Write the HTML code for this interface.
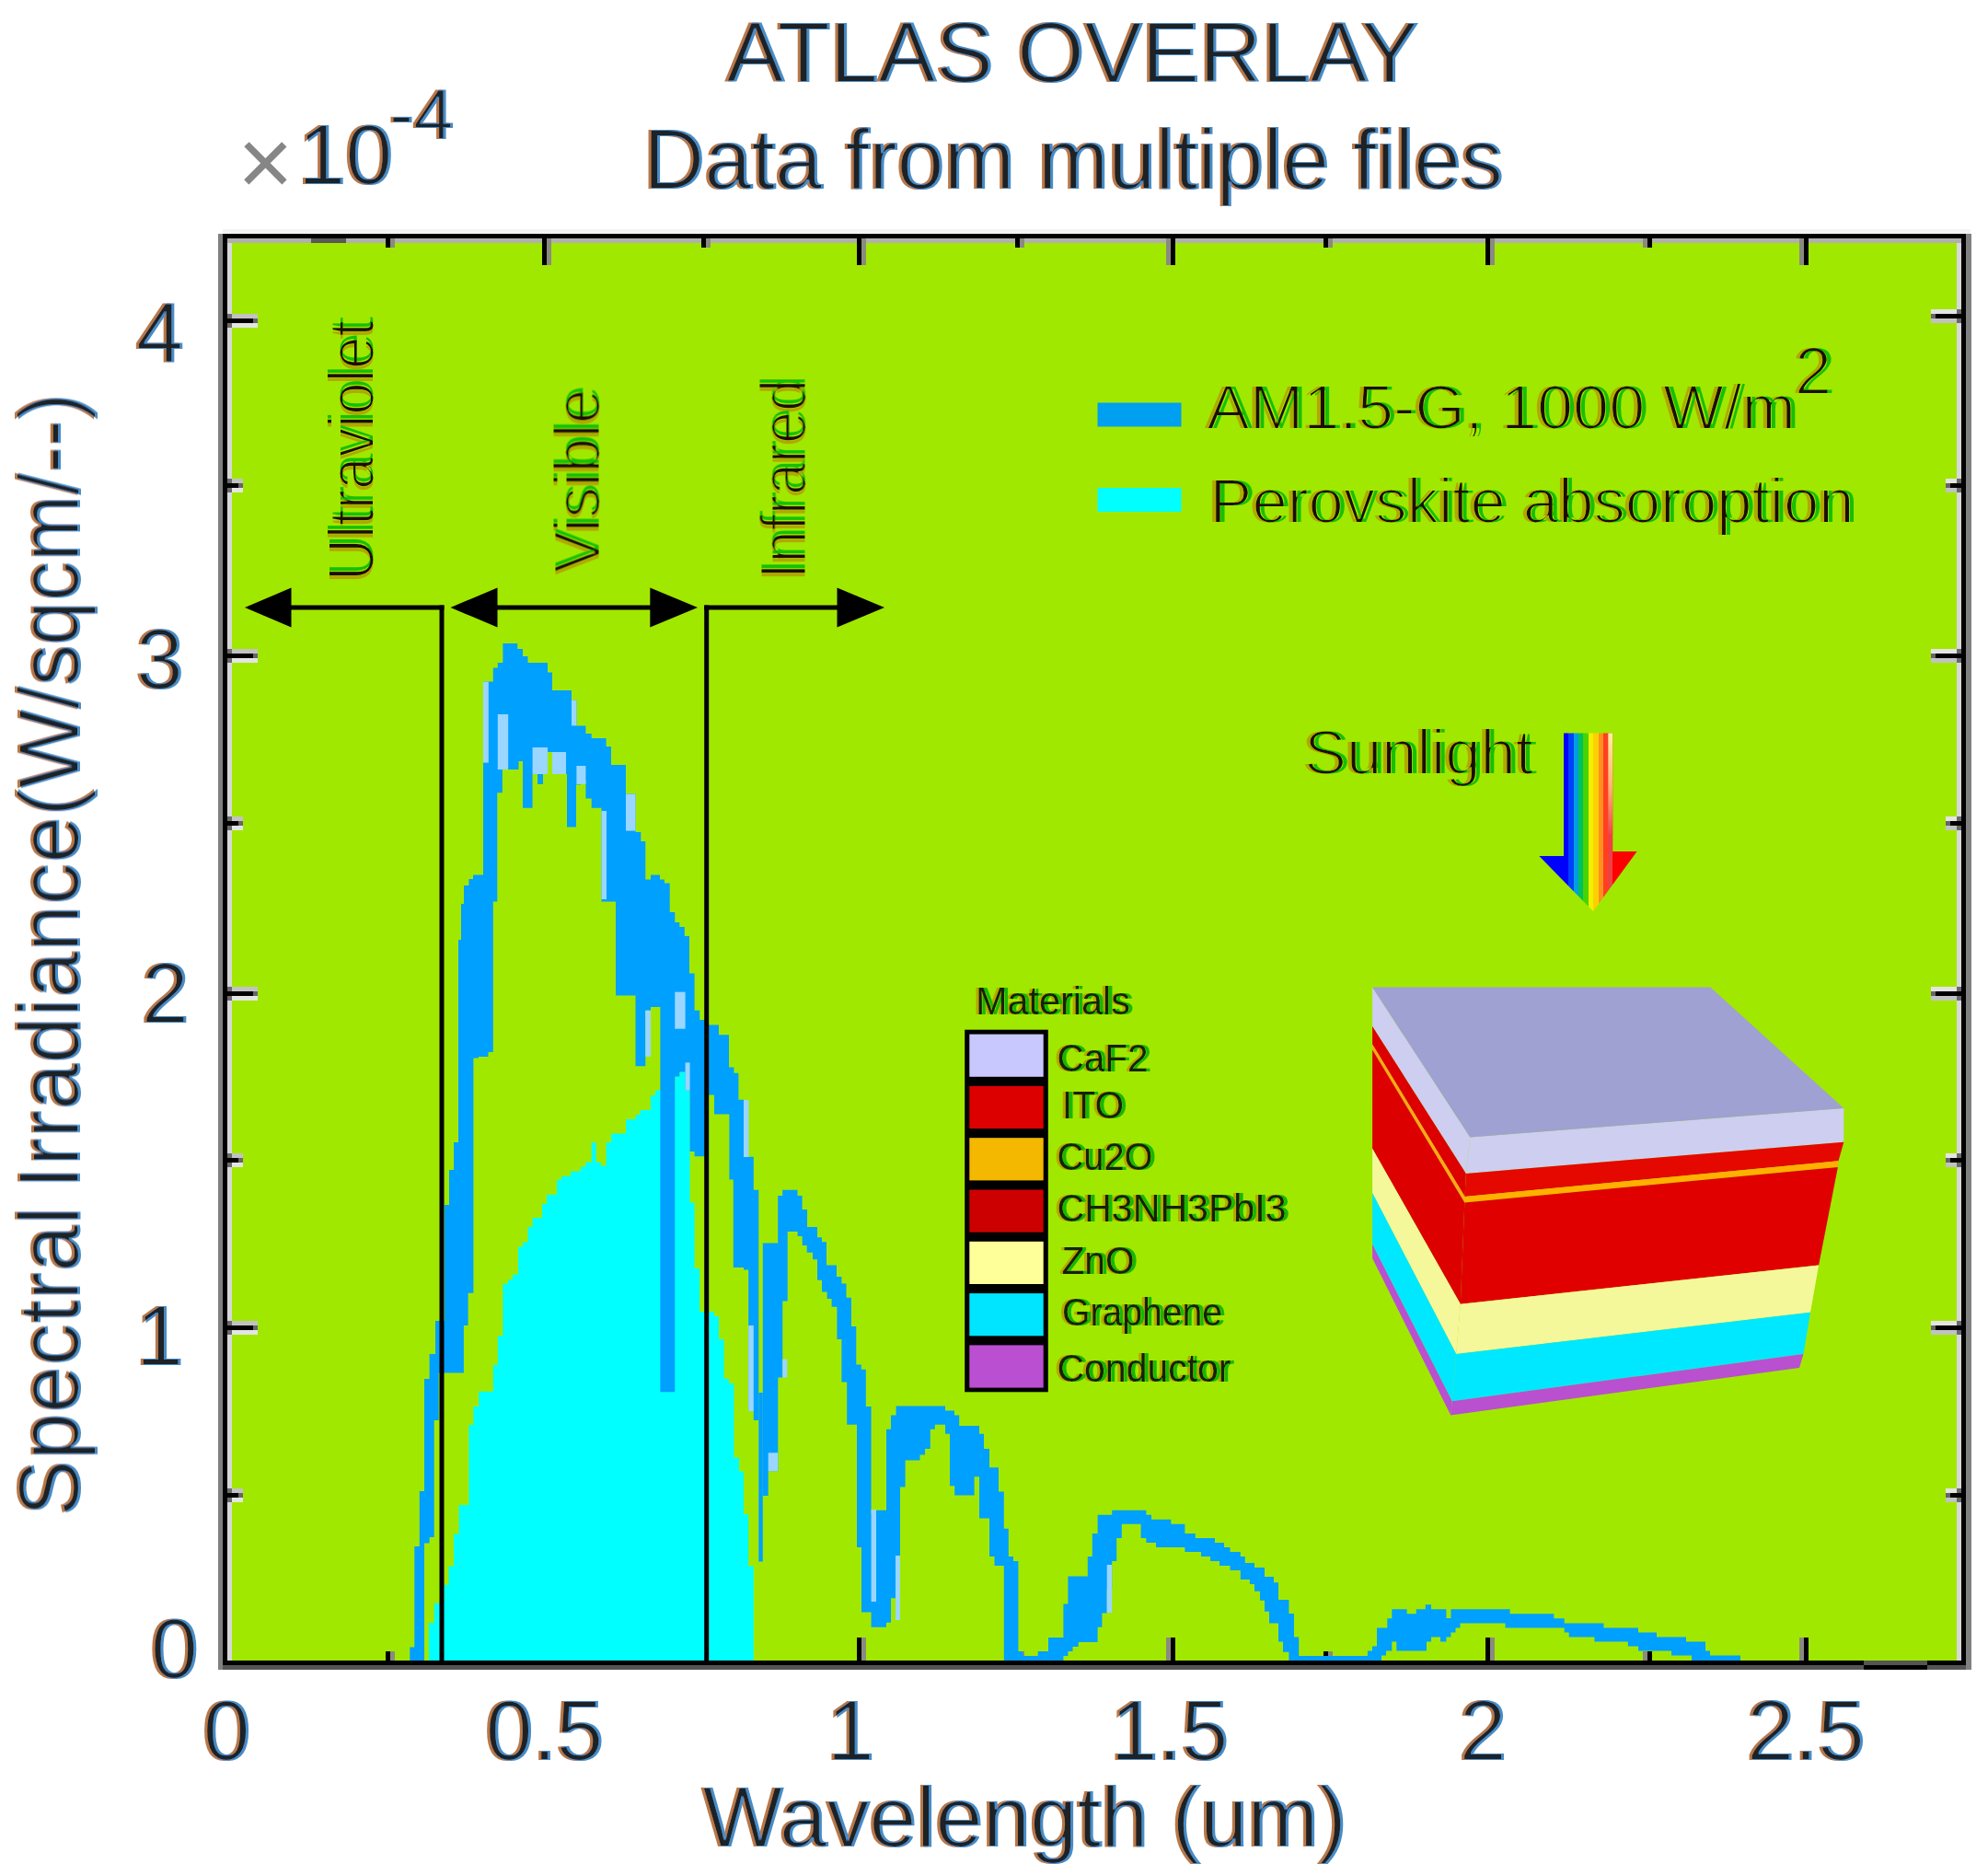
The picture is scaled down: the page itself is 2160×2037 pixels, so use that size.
<!DOCTYPE html>
<html lang="en"><head><meta charset="utf-8"><title>ATLAS OVERLAY</title>
<style>html,body{margin:0;padding:0;background:#fff}svg{display:block}text{font-family:"Liberation Sans",sans-serif}</style></head><body>
<svg width="2160" height="2037" viewBox="0 0 2160 2037">
<rect width="2160" height="2037" fill="#fff"/>
<defs><filter id="fg" x="-5%" y="-20%" width="110%" height="140%" primitiveUnits="userSpaceOnUse"><feMorphology in="SourceAlpha" operator="erode" radius="0.7" result="e"/><feOffset in="e" dx="4.5" dy="0" result="r"/><feFlood flood-color="#18c000"/><feComposite in2="r" operator="in" result="rc"/><feOffset in="e" dx="-4.5" dy="0" result="l"/><feFlood flood-color="#b0a800"/><feComposite in2="l" operator="in" result="lc"/><feFlood flood-color="#1c0c00"/><feComposite in2="e" operator="in" result="cc"/><feMerge><feMergeNode in="lc"/><feMergeNode in="rc"/><feMergeNode in="cc"/></feMerge></filter><filter id="fs" x="-5%" y="-20%" width="110%" height="140%" primitiveUnits="userSpaceOnUse"><feOffset in="SourceAlpha" dx="3.5" dy="0" result="r"/><feFlood flood-color="#18b800"/><feComposite in2="r" operator="in" result="rc"/><feOffset in="SourceAlpha" dx="-3.5" dy="0" result="l"/><feFlood flood-color="#b4a800"/><feComposite in2="l" operator="in" result="lc"/><feMerge><feMergeNode in="lc"/><feMergeNode in="rc"/><feMergeNode in="SourceGraphic"/></feMerge></filter><filter id="fw" x="-5%" y="-20%" width="110%" height="140%" primitiveUnits="userSpaceOnUse"><feMorphology in="SourceAlpha" operator="erode" radius="1" result="e"/><feOffset in="SourceAlpha" dx="-2" dy="0" result="l"/><feFlood flood-color="#b87848"/><feComposite in2="l" operator="in" result="lc"/><feOffset in="SourceAlpha" dx="2" dy="0" result="r"/><feFlood flood-color="#4a8cc6"/><feComposite in2="r" operator="in" result="rc"/><feFlood flood-color="#1e2028"/><feComposite in2="e" operator="in" result="cc"/><feMerge><feMergeNode in="lc"/><feMergeNode in="rc"/><feMergeNode in="cc"/></feMerge></filter><filter id="fwr" x="-5%" y="-30%" width="110%" height="160%" primitiveUnits="userSpaceOnUse"><feMorphology in="SourceAlpha" operator="erode" radius="1" result="e"/><feOffset in="SourceAlpha" dx="0" dy="-2" result="l"/><feFlood flood-color="#b87848"/><feComposite in2="l" operator="in" result="lc"/><feOffset in="SourceAlpha" dx="0" dy="2" result="r"/><feFlood flood-color="#4a8cc6"/><feComposite in2="r" operator="in" result="rc"/><feFlood flood-color="#1e2028"/><feComposite in2="e" operator="in" result="cc"/><feMerge><feMergeNode in="lc"/><feMergeNode in="rc"/><feMergeNode in="cc"/></feMerge></filter></defs>
<rect x="247" y="259" width="1884" height="1550" fill="#a1e800"/>
<g shape-rendering="crispEdges">
<rect x="424" y="1794" width="5" height="10" fill="#8a8a80"/>
<rect x="419" y="1794" width="5" height="10" fill="#000"/>
<rect x="594" y="1778.5" width="5" height="25.5" fill="#8a8a80"/>
<rect x="589" y="1778.5" width="5" height="25.5" fill="#000"/>
<rect x="767" y="1794" width="5" height="10" fill="#8a8a80"/>
<rect x="762" y="1794" width="5" height="10" fill="#000"/>
<rect x="936" y="1778.5" width="5" height="25.5" fill="#8a8a80"/>
<rect x="931" y="1778.5" width="5" height="25.5" fill="#000"/>
<rect x="1108" y="1794" width="5" height="10" fill="#8a8a80"/>
<rect x="1103" y="1794" width="5" height="10" fill="#000"/>
<rect x="1267.3" y="1778.5" width="5" height="25.5" fill="#8a8a80"/>
<rect x="1272.3" y="1778.5" width="5" height="25.5" fill="#000"/>
<rect x="1443" y="1794" width="5" height="10" fill="#8a8a80"/>
<rect x="1438" y="1794" width="5" height="10" fill="#000"/>
<rect x="1619" y="1778.5" width="5" height="25.5" fill="#8a8a80"/>
<rect x="1614" y="1778.5" width="5" height="25.5" fill="#000"/>
<rect x="1785" y="1794" width="5" height="10" fill="#8a8a80"/>
<rect x="1790" y="1794" width="5" height="10" fill="#000"/>
<rect x="1955.3" y="1778.5" width="5" height="25.5" fill="#8a8a80"/>
<rect x="1960.3" y="1778.5" width="5" height="25.5" fill="#000"/>
</g>
<polygon points="465.9,1804.0 465.9,1763.0 471.7,1763.0 471.7,1741.8 482.5,1741.8 482.5,1721.7 487.5,1721.7 487.5,1701.6 493.0,1701.6 493.0,1666.4 498.6,1666.4 498.6,1635.0 509.4,1635.0 509.4,1548.0 514.4,1548.0 514.4,1528.0 520.2,1528.0 520.2,1511.7 535.8,1511.7 535.8,1482.8 540.8,1482.8 540.8,1451.3 546.4,1451.3 546.4,1394.6 552.0,1394.6 552.0,1390.0 557.0,1390.0 557.0,1384.6 563.0,1384.6 563.0,1354.4 568.0,1354.4 568.0,1349.4 573.5,1349.4 573.5,1333.0 578.6,1333.0 578.6,1323.0 583.6,1323.0 589.0,1323.0 589.0,1307.9 594.0,1307.9 594.0,1297.8 599.3,1297.8 605.0,1297.8 605.0,1281.4 610.0,1281.4 610.0,1277.7 620.0,1277.7 620.0,1272.6 630.8,1272.6 630.8,1267.6 636.4,1267.6 636.4,1262.6 642.7,1262.6 642.7,1241.2 647.7,1241.2 647.7,1262.6 652.8,1262.6 652.8,1266.4 658.6,1266.4 658.6,1241.2 664.0,1241.2 664.0,1231.6 680.0,1231.6 680.0,1216.0 690.5,1216.0 690.5,1211.0 695.5,1211.0 695.5,1206.0 706.8,1206.0 706.8,1190.0 712.0,1190.0 712.0,1184.6 717.4,1184.6 733.3,1184.6 733.3,1169.5 738.3,1169.5 738.3,1164.5 749.6,1164.5 749.6,1306.6 754.6,1306.6 754.6,1378.0 760.2,1378.0 760.2,1425.0 776.0,1425.0 776.0,1430.0 781.0,1430.0 781.0,1455.0 786.6,1455.0 786.6,1497.8 792.0,1497.8 792.0,1503.0 797.4,1503.0 797.4,1583.4 803.0,1583.4 803.0,1598.5 808.0,1598.5 808.0,1645.0 813.2,1645.0 813.2,1701.6 818.8,1701.6 818.8,1804.0" fill="#00ffff"/>
<polygon points="445.3,1804.0 445.3,1789.6 450.3,1789.6 450.3,1680.0 455.8,1680.0 455.8,1620.0 461.0,1620.0 461.0,1498.0 466.6,1498.0 466.6,1471.0 473.0,1471.0 473.0,1435.0 483.0,1435.0 483.0,1309.0 488.0,1309.0 488.0,1271.0 493.0,1271.0 493.0,1241.0 498.0,1241.0 498.0,1021.0 501.0,1021.0 501.0,982.0 504.0,982.0 504.0,962.0 509.4,962.0 509.4,955.0 514.0,955.0 514.0,950.6 525.0,950.6 525.0,740.6 535.8,740.6 535.8,725.5 540.8,725.5 540.8,720.0 546.4,720.0 546.4,699.0 562.2,699.0 562.2,705.0 568.0,705.0 568.0,713.0 573.5,713.0 573.5,720.0 595.0,720.0 595.0,730.5 600.0,730.5 600.0,750.0 621.0,750.0 621.0,760.7 626.4,760.7 626.4,788.4 636.4,788.4 636.4,797.0 642.7,797.0 642.7,802.0 658.6,802.0 658.6,811.0 664.0,811.0 664.0,831.0 680.0,831.0 680.0,862.6 690.5,862.6 690.5,904.0 696.3,904.0 696.3,914.0 701.3,914.0 701.3,955.6 707.0,955.6 707.0,950.6 717.0,950.6 717.0,955.6 722.0,955.6 722.0,959.4 727.7,959.4 727.7,991.0 733.3,991.0 733.3,1002.0 738.3,1002.0 738.3,1007.0 743.8,1007.0 743.8,1017.0 749.0,1017.0 749.0,1057.6 754.6,1057.6 754.6,1097.8 760.2,1097.8 760.2,1108.0 770.0,1108.0 770.0,1113.4 781.0,1113.4 781.0,1124.3 792.0,1124.3 792.0,1159.5 797.4,1159.5 797.4,1165.8 802.4,1165.8 802.4,1194.7 808.0,1194.7 808.0,1256.8 818.8,1256.8 818.8,1292.8 824.3,1292.8 824.3,1543.0 818.8,1543.0 818.8,1533.0 813.2,1533.0 813.2,1379.5 808.0,1379.5 808.0,1377.0 796.8,1377.0 796.8,1281.4 792.4,1281.4 792.4,1210.5 776.0,1210.5 776.0,1189.6 767.7,1189.6 767.7,1256.3 754.6,1256.3 754.6,1251.0 749.6,1251.0 749.6,1184.6 744.6,1184.6 744.6,1164.5 738.3,1164.5 738.3,1169.5 733.3,1169.5 733.3,1512.2 717.4,1512.2 717.4,1094.0 707.0,1094.0 707.0,1097.8 701.3,1097.8 701.3,1158.2 690.5,1158.2 690.5,1081.5 669.0,1081.5 669.0,979.5 653.5,979.5 653.5,877.7 642.7,877.7 642.7,867.6 636.4,867.6 636.4,847.0 631.0,847.0 631.0,852.5 626.0,852.5 626.0,898.5 616.0,898.5 616.0,841.0 615.0,841.0 615.0,821.0 600.0,821.0 600.0,817.0 595.0,817.0 595.0,836.0 590.0,836.0 590.0,852.0 584.0,852.0 584.0,841.0 578.6,841.0 578.6,877.7 568.0,877.7 568.0,827.0 563.5,827.0 563.5,836.0 545.9,836.0 545.9,861.3 540.3,861.3 540.3,979.5 535.8,979.5 535.8,1143.0 530.5,1143.0 530.5,1148.0 520.0,1148.0 520.0,1149.4 514.4,1149.4 514.4,1404.7 508.6,1404.7 508.6,1440.0 503.9,1440.0 503.9,1491.6 476.7,1491.6 476.7,1543.0 471.7,1543.0 471.7,1670.0 466.6,1670.0 466.6,1676.4 461.0,1676.4 461.0,1804.0" fill="#00a0ff"/>
<rect x="824.3" y="1513" width="4.5" height="183.5" fill="#00a0ff"/>
<polygon points="828.8,1624.9 828.8,1350.6 845.2,1350.6 845.2,1299.0 850.2,1299.0 850.2,1292.8 866.5,1292.8 866.5,1299.0 871.6,1299.0 871.6,1314.0 877.0,1314.0 877.0,1333.0 888.0,1333.0 888.0,1344.3 893.0,1344.3 893.0,1349.3 898.0,1349.3 898.0,1374.5 909.0,1374.5 909.0,1387.0 914.4,1387.0 914.4,1394.6 919.5,1394.6 919.5,1409.7 925.0,1409.7 925.0,1441.0 930.3,1441.0 930.3,1482.6 935.8,1482.6 935.8,1487.7 940.8,1487.7 940.8,1528.0 946.6,1528.0 946.6,1644.5 952.0,1644.5 952.0,1640.7 963.0,1640.7 963.0,1552.7 968.0,1552.7 968.0,1537.6 973.6,1537.6 973.6,1527.5 1027.0,1527.5 1027.0,1532.6 1037.0,1532.6 1037.0,1537.6 1042.2,1537.6 1042.2,1549.0 1064.0,1549.0 1064.0,1557.7 1069.0,1557.7 1069.0,1574.0 1075.0,1574.0 1075.0,1594.2 1085.0,1594.2 1085.0,1620.6 1090.8,1620.6 1090.8,1660.8 1095.8,1660.8 1095.8,1691.0 1101.0,1691.0 1101.0,1696.0 1106.4,1696.0 1106.4,1794.0 1111.4,1794.0 1111.4,1799.0 1127.7,1799.0 1127.7,1794.0 1139.0,1794.0 1139.0,1779.0 1155.4,1779.0 1155.4,1742.6 1160.4,1742.6 1160.4,1712.4 1181.8,1712.4 1181.8,1691.0 1186.8,1691.0 1186.8,1665.9 1192.6,1665.9 1192.6,1645.8 1208.2,1645.8 1208.2,1640.7 1245.4,1640.7 1245.4,1645.8 1251.0,1645.8 1251.0,1650.8 1272.3,1650.8 1272.3,1655.8 1287.4,1655.8 1287.4,1665.9 1298.8,1665.9 1298.8,1671.0 1320.0,1671.0 1320.0,1676.0 1330.0,1676.0 1330.0,1681.0 1336.5,1681.0 1336.5,1686.0 1347.8,1686.0 1347.8,1691.0 1352.8,1691.0 1352.8,1698.0 1363.0,1698.0 1363.0,1703.0 1374.0,1703.0 1374.0,1713.0 1384.0,1713.0 1384.0,1719.3 1389.0,1719.3 1389.0,1738.0 1400.4,1738.0 1400.4,1753.0 1406.0,1753.0 1406.0,1778.5 1411.2,1778.5 1411.2,1799.0 1485.9,1799.0 1485.9,1793.5 1491.0,1793.5 1491.0,1788.5 1496.0,1788.5 1496.0,1768.4 1507.3,1768.4 1507.3,1758.3 1512.3,1758.3 1512.3,1748.3 1528.6,1748.3 1528.6,1753.3 1538.7,1753.3 1538.7,1748.3 1548.8,1748.3 1548.8,1743.2 1555.0,1743.2 1555.0,1748.3 1571.4,1748.3 1571.4,1758.0 1576.4,1758.0 1576.4,1748.3 1640.6,1748.3 1640.6,1753.3 1688.3,1753.3 1688.3,1758.3 1699.7,1758.3 1699.7,1763.4 1742.4,1763.4 1742.4,1768.4 1780.0,1768.4 1780.0,1773.4 1800.0,1773.4 1800.0,1778.5 1832.0,1778.5 1832.0,1783.5 1853.0,1783.5 1853.0,1793.6 1858.0,1793.6 1858.0,1798.6 1891.0,1798.6 1891.0,1804.0 1838.0,1804.0 1838.0,1798.6 1816.0,1798.6 1816.0,1793.6 1780.0,1793.6 1780.0,1788.5 1768.8,1788.5 1768.8,1783.5 1732.4,1783.5 1732.4,1778.5 1704.7,1778.5 1704.7,1773.4 1699.7,1773.4 1699.7,1768.4 1635.5,1768.4 1635.5,1763.4 1586.5,1763.4 1586.5,1768.4 1581.5,1768.4 1581.5,1773.4 1576.4,1773.4 1576.4,1778.5 1571.4,1778.5 1571.4,1783.5 1565.0,1783.5 1565.0,1778.5 1555.0,1778.5 1555.0,1783.5 1550.0,1783.5 1550.0,1793.5 1517.3,1793.5 1517.3,1783.5 1512.3,1783.5 1512.3,1793.5 1506.0,1793.5 1506.0,1798.6 1501.0,1798.6 1501.0,1804.0 1400.4,1804.0 1400.4,1794.8 1394.0,1794.8 1394.0,1783.5 1389.0,1783.5 1389.0,1763.4 1379.0,1763.4 1379.0,1750.8 1374.0,1750.8 1374.0,1738.8 1369.0,1738.8 1369.0,1728.7 1363.0,1728.7 1363.0,1721.0 1357.9,1721.0 1357.9,1716.0 1347.8,1716.0 1347.8,1706.0 1336.5,1706.0 1336.5,1701.0 1325.0,1701.0 1325.0,1696.0 1315.0,1696.0 1315.0,1691.0 1305.0,1691.0 1305.0,1686.0 1287.4,1686.0 1287.4,1681.0 1256.0,1681.0 1256.0,1676.0 1245.4,1676.0 1245.4,1671.0 1239.6,1671.0 1239.6,1655.8 1218.8,1655.8 1218.8,1671.0 1213.2,1671.0 1213.2,1696.0 1208.2,1696.0 1208.2,1726.2 1202.7,1726.2 1202.7,1752.6 1197.4,1752.6 1197.4,1767.7 1192.6,1767.7 1192.6,1784.0 1171.7,1784.0 1171.7,1789.0 1165.5,1789.0 1165.5,1794.0 1160.4,1794.0 1160.4,1799.0 1155.4,1799.0 1155.4,1804.0 1090.8,1804.0 1090.8,1701.0 1080.5,1701.0 1080.5,1691.0 1075.0,1691.0 1075.0,1649.5 1064.0,1649.5 1064.0,1604.3 1058.6,1604.3 1058.6,1624.4 1037.2,1624.4 1037.2,1614.3 1032.0,1614.3 1032.0,1557.7 1027.0,1557.7 1027.0,1547.7 1015.8,1547.7 1015.8,1552.7 1010.8,1552.7 1010.8,1574.0 1005.0,1574.0 1005.0,1580.4 999.5,1580.4 999.5,1586.6 983.6,1586.6 983.6,1615.6 978.0,1615.6 978.0,1736.3 968.0,1736.3 968.0,1762.7 963.0,1762.7 963.0,1767.7 946.6,1767.7 946.6,1751.4 936.0,1751.4 936.0,1681.0 931.0,1681.0 931.0,1547.7 920.2,1547.7 920.2,1501.5 914.4,1501.5 914.4,1455.0 909.4,1455.0 909.4,1419.8 903.6,1419.8 903.6,1411.0 898.6,1411.0 898.6,1403.4 893.0,1403.4 893.0,1390.8 888.0,1390.8 888.0,1368.2 883.0,1368.2 883.0,1360.7 876.7,1360.7 876.7,1353.0 871.7,1353.0 871.7,1343.0 866.6,1343.0 866.6,1338.0 855.7,1338.0 855.7,1413.5 850.3,1413.5 850.3,1496.5 845.3,1496.5 845.3,1598.3 834.7,1598.3 834.7,1624.9" fill="#00a0ff"/>
<rect x="525" y="740.6" width="5.8" height="88" fill="#9ad6ff"/>
<rect x="540.8" y="776" width="11.4" height="60" fill="#9ad6ff"/>
<rect x="578.6" y="812" width="16.4" height="29" fill="#9ad6ff"/>
<rect x="600" y="817" width="15" height="24" fill="#9ad6ff"/>
<rect x="626.4" y="832" width="10" height="20" fill="#9ad6ff"/>
<rect x="653.5" y="881" width="5.5" height="96" fill="#9ad6ff"/>
<rect x="680" y="862.6" width="10.5" height="40" fill="#9ad6ff"/>
<rect x="621" y="760.7" width="5.4" height="27.7" fill="#9ad6ff"/>
<rect x="733.3" y="1077.7" width="11.3" height="40" fill="#9ad6ff"/>
<rect x="744.6" y="1154.4" width="5" height="30.2" fill="#9ad6ff"/>
<rect x="813.2" y="1440" width="5.6" height="93" fill="#9ad6ff"/>
<rect x="701.3" y="1097.8" width="5.7" height="50" fill="#9ad6ff"/>
<rect x="808" y="1195" width="5.5" height="62" fill="#9ad6ff"/>
<rect x="850.3" y="1476.5" width="5" height="20" fill="#9ad6ff"/>
<rect x="834.7" y="1578.3" width="10.6" height="20" fill="#9ad6ff"/>
<rect x="946.6" y="1640" width="5.4" height="100" fill="#9ad6ff"/>
<rect x="973" y="1690" width="5" height="70" fill="#9ad6ff"/>
<rect x="1202.7" y="1700" width="5.5" height="52" fill="#9ad6ff"/>
<g fill="#000">
<rect x="477.5" y="657.5" width="5" height="1147"/>
<rect x="765.2" y="657.5" width="5" height="1147"/>
<rect x="316" y="657.5" width="166.5" height="5"/>
<rect x="540" y="657.5" width="167" height="5"/>
<rect x="765.2" y="657.5" width="145" height="5"/>
<polygon points="266,660 316.5,638.5 316.5,681.5"/>
<polygon points="489.5,660 540.5,638.5 540.5,681.5"/>
<polygon points="758,660 706.3,638.5 706.3,681.5"/>
<polygon points="961,660 909.5,638.5 909.5,681.5"/>
</g>
<text transform="translate(406,631) rotate(-90)" font-size="70" fill="#1c0c00" filter="url(#fg)" textLength="283" lengthAdjust="spacingAndGlyphs">Ultraviolet</text>
<text transform="translate(651.5,622.5) rotate(-90)" font-size="70" fill="#1c0c00" filter="url(#fg)" textLength="200" lengthAdjust="spacingAndGlyphs">Visible</text>
<text transform="translate(875.5,629) rotate(-90)" font-size="70" fill="#1c0c00" filter="url(#fg)" textLength="217" lengthAdjust="spacingAndGlyphs">Infrared</text>
<rect x="1192.5" y="437.5" width="91" height="26" fill="#00a0f0"/>
<rect x="1192.5" y="530" width="91" height="26" fill="#00ffff"/>
<text x="1311" y="466" font-size="69" fill="#1c0c00" filter="url(#fg)" textLength="640" lengthAdjust="spacingAndGlyphs">AM1.5-G, 1000 W/m</text>
<text x="1950" y="428" font-size="72" fill="#1c0c00" filter="url(#fg)">2</text>
<text x="1314.5" y="568" font-size="69" fill="#1c0c00" filter="url(#fg)" textLength="700" lengthAdjust="spacingAndGlyphs">Perovskite absoroption</text>
<text x="1417" y="840.5" font-size="69" fill="#1c0c00" filter="url(#fg)" textLength="249" lengthAdjust="spacingAndGlyphs">Sunlight</text>
<defs><linearGradient id="rb" gradientUnits="userSpaceOnUse" x1="1672.3" y1="0" x2="1778.6" y2="0"><stop offset="0" stop-color="#0000ff"/><stop offset="0.2512" stop-color="#0000ff"/><stop offset="0.2982" stop-color="#0000ff"/><stop offset="0.2982" stop-color="#0040ff"/><stop offset="0.3509" stop-color="#0040ff"/><stop offset="0.3509" stop-color="#00a0e0"/><stop offset="0.4017" stop-color="#00a0e0"/><stop offset="0.4017" stop-color="#00c060"/><stop offset="0.4525" stop-color="#00c060"/><stop offset="0.4525" stop-color="#48d400"/><stop offset="0.5052" stop-color="#48d400"/><stop offset="0.5052" stop-color="#f0f000"/><stop offset="0.5522" stop-color="#f0f000"/><stop offset="0.5522" stop-color="#ffd000"/><stop offset="0.6058" stop-color="#ffd000"/><stop offset="0.6058" stop-color="#ff9020"/><stop offset="0.6585" stop-color="#ff9020"/><stop offset="0.6585" stop-color="#ff4020"/><stop offset="0.7056" stop-color="#ff4020"/><stop offset="0.7056" stop-color="#f04040"/><stop offset="0.7516" stop-color="#f04040"/><stop offset="0.7516" stop-color="#ff0000"/><stop offset="1" stop-color="#ff0000"/></linearGradient><linearGradient id="rl" x1="0" y1="0" x2="0" y2="1"><stop offset="0" stop-color="#fff0a0"/><stop offset="0.55" stop-color="#ffb070"/><stop offset="1" stop-color="#f04848"/></linearGradient></defs>
<polygon points="1699,796.5 1752.2,796.5 1752.2,925 1778.6,925 1731,990 1672.3,930 1699,930" fill="url(#rb)"/>
<rect x="1747.3" y="796.5" width="4.9" height="110" fill="url(#rl)"/>
<text x="1060" y="1101.5" font-size="42" fill="#182000" filter="url(#fs)" textLength="168" lengthAdjust="spacingAndGlyphs">Materials</text>
<rect x="1048.2" y="1118.7" width="90.6" height="393.6" fill="#000"/>
<rect x="1053.3" y="1123.6" width="80.4" height="46.2" fill="#c8c8ff"/>
<text x="1148.5" y="1163.5" font-size="42" fill="#182000" filter="url(#fs)" textLength="99" lengthAdjust="spacingAndGlyphs">CaF2</text>
<rect x="1053.3" y="1179.9" width="80.4" height="46.2" fill="#dd0000"/>
<text x="1154" y="1215" font-size="42" fill="#182000" filter="url(#fs)" textLength="67" lengthAdjust="spacingAndGlyphs">ITO</text>
<rect x="1053.3" y="1236.2" width="80.4" height="46.2" fill="#f5b800"/>
<text x="1148.5" y="1271" font-size="42" fill="#182000" filter="url(#fs)" textLength="104" lengthAdjust="spacingAndGlyphs">Cu2O</text>
<rect x="1053.3" y="1292.5" width="80.4" height="46.2" fill="#cc0000"/>
<text x="1148.5" y="1327.3" font-size="42" fill="#182000" filter="url(#fs)" textLength="249" lengthAdjust="spacingAndGlyphs">CH3NH3PbI3</text>
<rect x="1053.3" y="1348.8" width="80.4" height="46.2" fill="#ffff99"/>
<text x="1153.5" y="1383.7" font-size="42" fill="#182000" filter="url(#fs)" textLength="79" lengthAdjust="spacingAndGlyphs">ZnO</text>
<rect x="1053.3" y="1405.1" width="80.4" height="46.2" fill="#00e5ff"/>
<text x="1154" y="1439.8" font-size="42" fill="#182000" filter="url(#fs)" textLength="174" lengthAdjust="spacingAndGlyphs">Graphene</text>
<rect x="1053.3" y="1461.4" width="80.4" height="46.2" fill="#ba4fd2"/>
<text x="1148.5" y="1501" font-size="42" fill="#182000" filter="url(#fs)" textLength="189" lengthAdjust="spacingAndGlyphs">Conductor</text>
<polygon points="1491.1,1072.6 1597.3,1235.6 1592.8,1274.9 1491.1,1114.9" fill="#cdcef0"/>
<polygon points="1491.1,1114.9 1592.8,1274.9 1591.6,1299.9 1491.1,1134.5" fill="#dc0000"/>
<polygon points="1491.1,1134.5 1591.6,1299.9 1591.3,1306.5 1491.1,1140.5" fill="#ffa818"/>
<polygon points="1491.1,1140.5 1591.3,1306.5 1586.8,1416.7 1491.1,1247.7" fill="#dc0000"/>
<polygon points="1491.1,1247.7 1586.8,1416.7 1582.2,1471.0 1491.1,1296.0" fill="#f5f89a"/>
<polygon points="1491.1,1296.0 1582.2,1471.0 1577.7,1522.3 1491.1,1351.8" fill="#00e8ff"/>
<polygon points="1491.1,1351.8 1577.7,1522.3 1576.2,1537.4 1491.1,1366.9" fill="#b850d0"/>
<polygon points="1597.3,1235.6 2003.3,1203.9 2003.3,1240.7 1592.8,1274.9" fill="#cdcef0"/>
<polygon points="1592.8,1274.9 2003.3,1240.7 1997.5,1261.3 1591.6,1299.9" fill="#e40800"/>
<polygon points="1591.6,1299.9 1997.5,1261.3 1996.9,1267.9 1591.3,1306.5" fill="#ffb000"/>
<polygon points="1591.3,1306.5 1996.9,1267.9 1976.1,1374.4 1586.8,1416.7" fill="#e00000"/>
<polygon points="1586.8,1416.7 1976.1,1374.4 1967.0,1425.8 1582.2,1471.0" fill="#f5f89a"/>
<polygon points="1582.2,1471.0 1967.0,1425.8 1959.5,1471.0 1577.7,1522.3" fill="#00e8ff"/>
<polygon points="1577.7,1522.3 1959.5,1471.0 1955.0,1486.1 1576.2,1537.4" fill="#b850d0"/>
<polygon points="1491.1,1072.6 1858.4,1072.6 2003.3,1203.9 1597.3,1235.6" fill="#9ea1d1"/>
<g shape-rendering="crispEdges">
<rect x="242" y="249" width="1899" height="5" fill="#f3f3f3"/>
<rect x="247" y="259" width="1884" height="5" fill="#b0b0b0"/>
<rect x="338" y="259" width="38" height="5" fill="#585858"/>
<rect x="247" y="264" width="5" height="1540" fill="#d8d8d8"/>
<rect x="2126" y="264" width="5" height="1540" fill="#d8d8d8"/>
<rect x="237" y="254" width="5" height="1560" fill="#808080"/>
<rect x="2136" y="254" width="5.5" height="1560" fill="#808080"/>
<rect x="242" y="1809" width="1894" height="5" fill="#555555"/>
<rect x="242" y="254" width="1894" height="5" fill="#000"/>
<rect x="242" y="254" width="5" height="1555" fill="#000"/>
<rect x="2131" y="254" width="5" height="1555" fill="#000"/>
<rect x="242" y="1804" width="1894" height="5" fill="#000"/>
<rect x="2024.5" y="1804" width="69.5" height="5" fill="#555"/>
<rect x="2024.5" y="1809" width="69.5" height="5" fill="#000"/>
<rect x="424" y="259" width="5" height="10" fill="#8a8a80"/>
<rect x="419" y="259" width="5" height="10" fill="#000"/>
<rect x="594" y="259" width="5" height="29" fill="#8a8a80"/>
<rect x="589" y="259" width="5" height="29" fill="#000"/>
<rect x="767" y="259" width="5" height="10" fill="#8a8a80"/>
<rect x="762" y="259" width="5" height="10" fill="#000"/>
<rect x="936" y="259" width="5" height="29" fill="#8a8a80"/>
<rect x="931" y="259" width="5" height="29" fill="#000"/>
<rect x="1108" y="259" width="5" height="10" fill="#8a8a80"/>
<rect x="1103" y="259" width="5" height="10" fill="#000"/>
<rect x="1267.3" y="259" width="5" height="29" fill="#8a8a80"/>
<rect x="1272.3" y="259" width="5" height="29" fill="#000"/>
<rect x="1443" y="259" width="5" height="10" fill="#8a8a80"/>
<rect x="1438" y="259" width="5" height="10" fill="#000"/>
<rect x="1619" y="259" width="5" height="29" fill="#8a8a80"/>
<rect x="1614" y="259" width="5" height="29" fill="#000"/>
<rect x="1785" y="259" width="5" height="10" fill="#8a8a80"/>
<rect x="1790" y="259" width="5" height="10" fill="#000"/>
<rect x="1955.3" y="259" width="5" height="29" fill="#8a8a80"/>
<rect x="1960.3" y="259" width="5" height="29" fill="#000"/>
<rect x="252" y="340.6" width="28" height="5" fill="#c2c2c2"/>
<rect x="252" y="350.6" width="28" height="5" fill="#e4e4e4"/>
<rect x="247" y="340.6" width="5" height="15" fill="#6a6a6a"/>
<rect x="247" y="345.6" width="33" height="5" fill="#000"/>
<rect x="275" y="345.6" width="5" height="5" fill="#666"/>
<rect x="2098" y="335.8" width="28" height="5" fill="#e4e4e4"/>
<rect x="2098" y="345.8" width="28" height="5" fill="#c2c2c2"/>
<rect x="2126" y="335.8" width="5" height="15" fill="#6a6a6a"/>
<rect x="2098" y="340.8" width="33" height="5" fill="#000"/>
<rect x="2098" y="340.8" width="5" height="5" fill="#666"/>
<rect x="252" y="520" width="12" height="5" fill="#c2c2c2"/>
<rect x="252" y="530" width="12" height="5" fill="#e4e4e4"/>
<rect x="247" y="520" width="5" height="15" fill="#6a6a6a"/>
<rect x="247" y="525" width="17" height="5" fill="#000"/>
<rect x="259" y="525" width="5" height="5" fill="#666"/>
<rect x="2114" y="520" width="12" height="5" fill="#e4e4e4"/>
<rect x="2114" y="530" width="12" height="5" fill="#c2c2c2"/>
<rect x="2126" y="520" width="5" height="15" fill="#6a6a6a"/>
<rect x="2114" y="525" width="17" height="5" fill="#000"/>
<rect x="2114" y="525" width="5" height="5" fill="#666"/>
<rect x="252" y="704.8" width="28" height="5" fill="#c2c2c2"/>
<rect x="252" y="714.8" width="28" height="5" fill="#e4e4e4"/>
<rect x="247" y="704.8" width="5" height="15" fill="#6a6a6a"/>
<rect x="247" y="709.8" width="33" height="5" fill="#000"/>
<rect x="275" y="709.8" width="5" height="5" fill="#666"/>
<rect x="2098" y="704.8" width="28" height="5" fill="#e4e4e4"/>
<rect x="2098" y="714.8" width="28" height="5" fill="#c2c2c2"/>
<rect x="2126" y="704.8" width="5" height="15" fill="#6a6a6a"/>
<rect x="2098" y="709.8" width="33" height="5" fill="#000"/>
<rect x="2098" y="709.8" width="5" height="5" fill="#666"/>
<rect x="252" y="887" width="12" height="5" fill="#c2c2c2"/>
<rect x="252" y="897" width="12" height="5" fill="#e4e4e4"/>
<rect x="247" y="887" width="5" height="15" fill="#6a6a6a"/>
<rect x="247" y="892" width="17" height="5" fill="#000"/>
<rect x="259" y="892" width="5" height="5" fill="#666"/>
<rect x="2114" y="887" width="12" height="5" fill="#e4e4e4"/>
<rect x="2114" y="897" width="12" height="5" fill="#c2c2c2"/>
<rect x="2126" y="887" width="5" height="15" fill="#6a6a6a"/>
<rect x="2114" y="892" width="17" height="5" fill="#000"/>
<rect x="2114" y="892" width="5" height="5" fill="#666"/>
<rect x="252" y="1072" width="28" height="5" fill="#c2c2c2"/>
<rect x="252" y="1082" width="28" height="5" fill="#e4e4e4"/>
<rect x="247" y="1072" width="5" height="15" fill="#6a6a6a"/>
<rect x="247" y="1077" width="33" height="5" fill="#000"/>
<rect x="275" y="1077" width="5" height="5" fill="#666"/>
<rect x="2098" y="1072" width="28" height="5" fill="#e4e4e4"/>
<rect x="2098" y="1082" width="28" height="5" fill="#c2c2c2"/>
<rect x="2126" y="1072" width="5" height="15" fill="#6a6a6a"/>
<rect x="2098" y="1077" width="33" height="5" fill="#000"/>
<rect x="2098" y="1077" width="5" height="5" fill="#666"/>
<rect x="252" y="1253" width="12" height="5" fill="#c2c2c2"/>
<rect x="252" y="1263" width="12" height="5" fill="#e4e4e4"/>
<rect x="247" y="1253" width="5" height="15" fill="#6a6a6a"/>
<rect x="247" y="1258" width="17" height="5" fill="#000"/>
<rect x="259" y="1258" width="5" height="5" fill="#666"/>
<rect x="2114" y="1253" width="12" height="5" fill="#e4e4e4"/>
<rect x="2114" y="1263" width="12" height="5" fill="#c2c2c2"/>
<rect x="2126" y="1253" width="5" height="15" fill="#6a6a6a"/>
<rect x="2114" y="1258" width="17" height="5" fill="#000"/>
<rect x="2114" y="1258" width="5" height="5" fill="#666"/>
<rect x="252" y="1435" width="28" height="5" fill="#c2c2c2"/>
<rect x="252" y="1445" width="28" height="5" fill="#e4e4e4"/>
<rect x="247" y="1435" width="5" height="15" fill="#6a6a6a"/>
<rect x="247" y="1440" width="33" height="5" fill="#000"/>
<rect x="275" y="1440" width="5" height="5" fill="#666"/>
<rect x="2098" y="1435" width="28" height="5" fill="#e4e4e4"/>
<rect x="2098" y="1445" width="28" height="5" fill="#c2c2c2"/>
<rect x="2126" y="1435" width="5" height="15" fill="#6a6a6a"/>
<rect x="2098" y="1440" width="33" height="5" fill="#000"/>
<rect x="2098" y="1440" width="5" height="5" fill="#666"/>
<rect x="252" y="1617" width="12" height="5" fill="#c2c2c2"/>
<rect x="252" y="1627" width="12" height="5" fill="#e4e4e4"/>
<rect x="247" y="1617" width="5" height="15" fill="#6a6a6a"/>
<rect x="247" y="1622" width="17" height="5" fill="#000"/>
<rect x="259" y="1622" width="5" height="5" fill="#666"/>
<rect x="2114" y="1617" width="12" height="5" fill="#e4e4e4"/>
<rect x="2114" y="1627" width="12" height="5" fill="#c2c2c2"/>
<rect x="2126" y="1617" width="5" height="15" fill="#6a6a6a"/>
<rect x="2114" y="1622" width="17" height="5" fill="#000"/>
<rect x="2114" y="1622" width="5" height="5" fill="#666"/>
</g>
<g fill="#262626">
<text filter="url(#fw)" x="1165" y="89" font-size="92" text-anchor="middle" textLength="752" lengthAdjust="spacingAndGlyphs">ATLAS OVERLAY</text>
<text filter="url(#fw)" x="1166" y="205" font-size="92" text-anchor="middle" textLength="934" lengthAdjust="spacingAndGlyphs">Data from multiple files</text>
<text x="258" y="212" font-size="104" fill="#868686">×</text>
<text filter="url(#fw)" x="324" y="200" font-size="92">10</text>
<text filter="url(#fw)" x="423" y="150.5" font-size="78">-4</text>
<text filter="url(#fw)" x="199" y="392.5" font-size="92" text-anchor="end">4</text>
<text filter="url(#fw)" x="199" y="748" font-size="92" text-anchor="end">3</text>
<text filter="url(#fw)" x="205" y="1110.5" font-size="92" text-anchor="end">2</text>
<text filter="url(#fw)" x="199" y="1483" font-size="92" text-anchor="end">1</text>
<text filter="url(#fw)" x="215" y="1823" font-size="92" text-anchor="end">0</text>
<text filter="url(#fw)" x="246" y="1912" font-size="92" text-anchor="middle">0</text>
<text filter="url(#fw)" x="591.5" y="1912" font-size="92" text-anchor="middle">0.5</text>
<text filter="url(#fw)" x="924" y="1912" font-size="92" text-anchor="middle">1</text>
<text filter="url(#fw)" x="1270.5" y="1912" font-size="92" text-anchor="middle">1.5</text>
<text filter="url(#fw)" x="1611" y="1912" font-size="92" text-anchor="middle">2</text>
<text filter="url(#fw)" x="1962" y="1912" font-size="92" text-anchor="middle">2.5</text>
<text filter="url(#fw)" x="1113" y="2006" font-size="92" text-anchor="middle" textLength="700" lengthAdjust="spacingAndGlyphs">Wavelength (um)</text>
<text filter="url(#fwr)" transform="translate(85,1647.3) rotate(-90)" font-size="92"><tspan x="0" textLength="337" lengthAdjust="spacingAndGlyphs">Spectral</tspan> <tspan x="355.5" textLength="592" lengthAdjust="spacingAndGlyphs">Irradiance(W/s</tspan><tspan x="946" textLength="274" lengthAdjust="spacingAndGlyphs">qcm/--)</tspan></text>
</g>
</svg></body></html>
